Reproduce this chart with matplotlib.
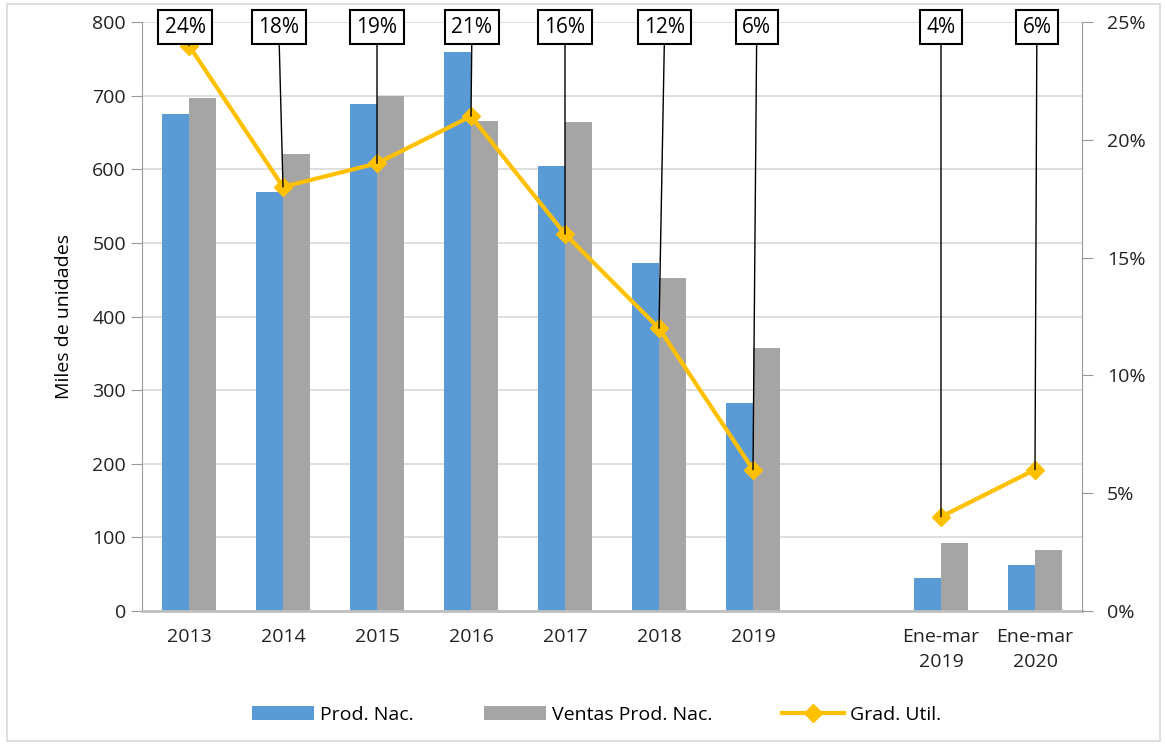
import numpy as np
import matplotlib.pyplot as plt
from matplotlib.patches import Rectangle

categories = ["2013", "2014", "2015", "2016", "2017", "2018", "2019", "",
              "Ene-mar\n2019", "Ene-mar\n2020"]
prod_nac = [675, 569, 689, 759, 605, 473, 283, np.nan, 45, 62]
ventas = [697, 621, 700, 666, 664, 452, 357, np.nan, 92, 83]
grad_util = [0.24, 0.18, 0.19, 0.21, 0.16, 0.12, 0.06, np.nan, 0.04, 0.06]
labels = ["24%", "18%", "19%", "21%", "16%", "12%", "6%", "", "4%", "6%"]

blue = "#5B9BD5"
grey = "#A5A5A5"
gold = "#FFC000"

plt.rcParams['font.family'] = ['Open Sans', 'DejaVu Sans']

fig = plt.figure(figsize=(11.65, 7.44), dpi=100)
ax = fig.add_axes([142 / 1165, 1 - 611 / 744, 940 / 1165, 589 / 744])
ax2 = ax.twinx()

x = np.arange(len(categories))
w = 0.287
ax.bar(x - w / 2, prod_nac, w, color=blue, label="Prod. Nac.", zorder=2)
ax.bar(x + w / 2, ventas, w, color=grey, label="Ventas Prod. Nac.", zorder=2)

ax.set_xlim(-0.5, len(categories) - 0.5)
ax.set_ylim(0, 800)
ax.set_yticks(range(0, 801, 100))
ax.set_xticks(x)
ax.set_xticklabels(categories, fontsize=14, color="#222222", linespacing=1.5)
ax.tick_params(axis="x", length=0, pad=12)
ax.tick_params(axis="y", labelsize=14, color="#999999", length=8, labelcolor="#222222")
ax.grid(axis="y", color="#D9D9D9", linewidth=1.2, zorder=0)
ax.set_axisbelow(True)
ax.set_ylabel("Miles de unidades", fontsize=14, labelpad=14)
for s in ["top", "right"]:
    ax.spines[s].set_visible(False)
ax.spines["left"].set_color("#999999")
ax.spines["bottom"].set_color("#BFBFBF")
ax.spines["bottom"].set_linewidth(2)

ax2.plot(x, grad_util, color=gold, linewidth=3, marker="D", markersize=9,
         label="Grad. Util.", zorder=3)
ax2.set_ylim(0, 0.25)
ax2.set_yticks(np.arange(0, 0.26, 0.05))
ax2.set_yticklabels([f"{int(round(v * 100))}%" for v in np.arange(0, 0.26, 0.05)])
ax2.tick_params(axis="y", labelsize=14, color="#999999", length=8, labelcolor="#222222", pad=10)
for s in ["top", "left", "bottom"]:
    ax2.spines[s].set_visible(False)
ax2.spines["right"].set_color("#999999")

# callout labels at the top with leader lines
box_x = [-0.04, -0.045, 0.0, 0.01, 0.0, 0.06, 0.04, 0, 0.0, 0.02]
for i, (v, lab) in enumerate(zip(grad_util, labels)):
    if not lab:
        continue
    bx = x[i] + box_x[i]
    ax2.annotate(lab, xy=(x[i], v), xycoords="data",
                 xytext=(bx, 0.2478), textcoords="data",
                 ha="center", va="center", fontsize=15,
                 bbox=dict(boxstyle="square,pad=0.3", fc="white", ec="black", lw=1.5),
                 arrowprops=dict(arrowstyle="-", color="black", lw=1,
                                 shrinkA=0, shrinkB=0),
                 zorder=5, annotation_clip=False)

h1, l1 = ax.get_legend_handles_labels()
h2, l2 = ax2.get_legend_handles_labels()
fig.legend(h1 + h2, l1 + l2, loc="center", bbox_to_anchor=(0.512, 1 - 715 / 744),
           ncol=3, frameon=False, fontsize=14, handlelength=3.2, columnspacing=3.6,
           handletextpad=0.3)

fig.patches.append(Rectangle((0.006, 0.004), 0.99, 0.99, transform=fig.transFigure,
                             fill=False, ec="#D9D9D9", lw=1.2))

fig.savefig("out.png", dpi=100)
